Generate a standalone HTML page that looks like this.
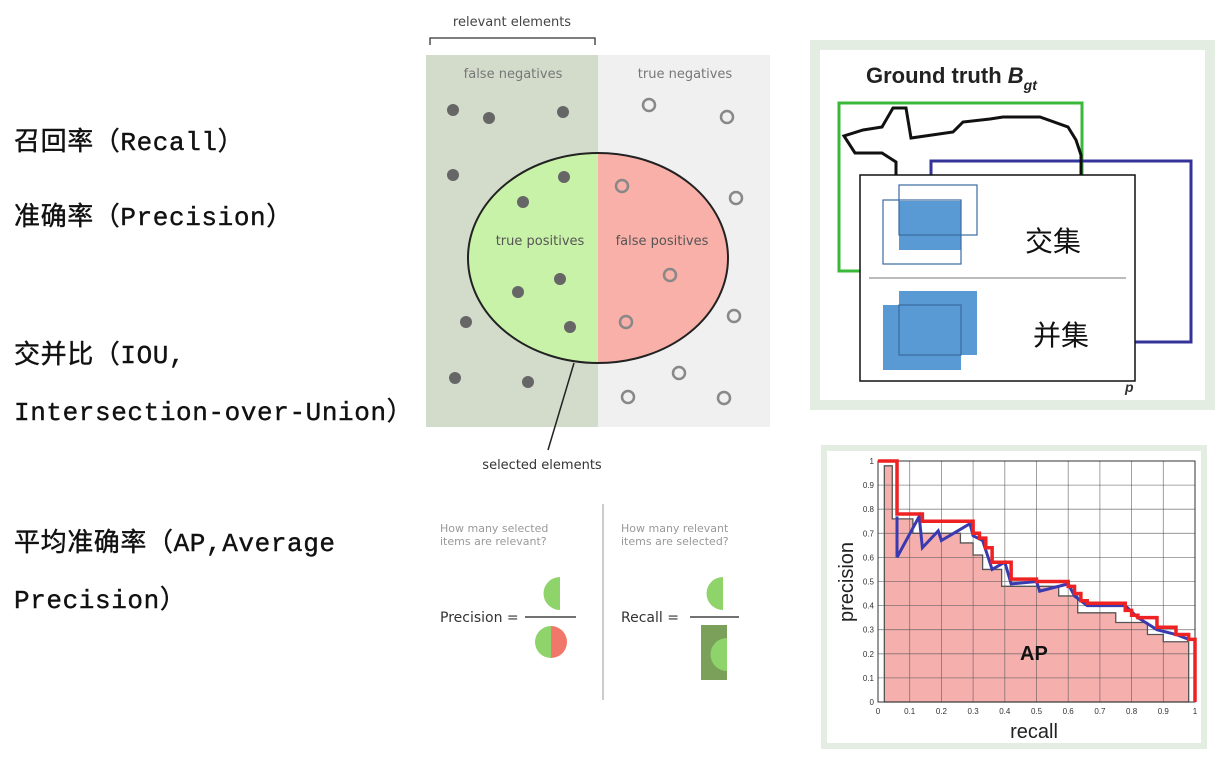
<!DOCTYPE html>
<html><head><meta charset="utf-8">
<style>
body{margin:0;width:1221px;height:763px;background:#fff;overflow:hidden;position:relative;font-family:"Liberation Sans","Noto Sans CJK SC",sans-serif}
.lt{position:absolute;left:14px;font-family:"Liberation Mono","Noto Sans CJK SC",monospace;font-size:26px;letter-spacing:0.6px;color:#111;white-space:nowrap;line-height:30px;-webkit-text-stroke:0.4px #111}
</style></head><body>
<div class="lt" style="top:128px">召回率（Recall）</div>
<div class="lt" style="top:203px">准确率（Precision）</div>
<div class="lt" style="top:341px">交并比（IOU,</div>
<div class="lt" style="top:398px">Intersection-over-Union）</div>
<div class="lt" style="top:529px">平均准确率（AP,Average</div>
<div class="lt" style="top:586px">Precision）</div>

<svg width="1221" height="763" style="position:absolute;left:0;top:0">
<g font-family="DejaVu Sans,sans-serif">
<text x="512" y="26" font-size="13" fill="#444" text-anchor="middle">relevant elements</text>
<path d="M430,45 V38 H595 V45" fill="none" stroke="#333" stroke-width="1.3"/>
<rect x="426" y="55" width="172" height="372" fill="#d3dccb"/>
<rect x="598" y="55" width="172" height="372" fill="#f0f0f0"/>
<text x="513" y="78" font-size="13" fill="#777" text-anchor="middle">false negatives</text>
<text x="685" y="78" font-size="13" fill="#777" text-anchor="middle">true negatives</text>
<path d="M598,153 A130,105 0 0 0 598,363 Z" fill="#c9f2a9"/>
<path d="M598,153 A130,105 0 0 1 598,363 Z" fill="#f9b0a8"/>
<ellipse cx="598" cy="258" rx="130" ry="105" fill="none" stroke="#222" stroke-width="2"/>
<text x="540" y="245" font-size="13" fill="#555" text-anchor="middle">true positives</text>
<text x="662" y="245" font-size="13" fill="#555" text-anchor="middle">false positives</text>
<g fill="#666">
<circle cx="453" cy="110" r="6"/><circle cx="489" cy="118" r="6"/><circle cx="563" cy="112" r="6"/>
<circle cx="453" cy="175" r="6"/><circle cx="564" cy="177" r="6"/><circle cx="523" cy="202" r="6"/>
<circle cx="560" cy="279" r="6"/><circle cx="518" cy="292" r="6"/><circle cx="466" cy="322" r="6"/>
<circle cx="570" cy="327" r="6"/><circle cx="455" cy="378" r="6"/><circle cx="528" cy="382" r="6"/></g>
<g fill="none" stroke="#888" stroke-width="2.5">
<circle cx="649" cy="105" r="6"/><circle cx="727" cy="117" r="6"/><circle cx="622" cy="186" r="6"/>
<circle cx="736" cy="198" r="6"/><circle cx="670" cy="275" r="6"/><circle cx="626" cy="322" r="6"/>
<circle cx="734" cy="316" r="6"/><circle cx="679" cy="373" r="6"/><circle cx="628" cy="397" r="6"/>
<circle cx="724" cy="398" r="6"/></g>
<line x1="574" y1="363" x2="548" y2="450" stroke="#222" stroke-width="1.5"/>
<text x="542" y="469" font-size="13" fill="#333" text-anchor="middle">selected elements</text>
</g>
<g font-family="DejaVu Sans,sans-serif">
<text x="440" y="532" font-size="11" fill="#999">How many selected</text>
<text x="440" y="545" font-size="11" fill="#999">items are relevant?</text>
<text x="621" y="532" font-size="11" fill="#999">How many relevant</text>
<text x="621" y="545" font-size="11" fill="#999">items are selected?</text>
<line x1="603" y1="504" x2="603" y2="700" stroke="#ccc" stroke-width="2"/>
<text x="440" y="622" font-size="14" fill="#333">Precision =</text>
<line x1="525" y1="617" x2="576" y2="617" stroke="#444" stroke-width="1.5"/>
<path d="M560,577 A16.5,16.5 0 0 0 560,610 Z" fill="#8fd46a"/>
<path d="M551,626 A16,16 0 0 0 551,658 Z" fill="#8fd46a"/>
<path d="M551,626 A16,16 0 0 1 551,658 Z" fill="#f0776a"/>
<text x="621" y="622" font-size="14" fill="#333">Recall =</text>
<line x1="690" y1="617" x2="739" y2="617" stroke="#444" stroke-width="1.5"/>
<path d="M723,577 A16.5,16.5 0 0 0 723,610 Z" fill="#8fd46a"/>
<rect x="701" y="625" width="26" height="55" fill="#7aa05a"/>
<path d="M727,638 A16.5,16.5 0 0 0 727,671 Z" fill="#8fd46a"/>
</g>
<g>
<rect x="815" y="45" width="395" height="360" fill="#fff" stroke="#e3ede1" stroke-width="10"/>
<text x="866" y="83" font-size="22" font-weight="bold" fill="#222">Ground truth <tspan font-style="italic">B</tspan><tspan font-style="italic" font-size="14" dy="7">gt</tspan></text>
<rect x="839" y="103" width="243" height="168" fill="none" stroke="#3ab83a" stroke-width="3"/>
<rect x="931" y="161" width="260" height="181" fill="none" stroke="#33339a" stroke-width="3"/>
<path d="M896,175 V162 L882,153 H855 L844,136 L863,130 L882,127 L893,108 H906 L911,138 L953,132 L963,122 L990,119 L1003,117 L1040,117 L1068,127 L1076,140 L1081,155 V175" fill="none" stroke="#111" stroke-width="3"/>
<text x="1125" y="392" font-size="14" font-weight="bold" font-style="italic" fill="#333">p</text>
<rect x="860" y="175" width="275" height="206" fill="#fff" stroke="#111" stroke-width="1.5"/>
<rect x="899" y="201" width="62" height="49" fill="#5a9ad4"/>
<rect x="899" y="185" width="78" height="50" fill="none" stroke="#3a6aa0" stroke-width="1.2"/>
<rect x="883" y="200" width="78" height="64" fill="none" stroke="#3a6aa0" stroke-width="1.2"/>
<text x="1025" y="251" font-size="28" fill="#111" font-family="Noto Sans CJK SC,sans-serif">交集</text>
<line x1="869" y1="278" x2="1126" y2="278" stroke="#777" stroke-width="1"/>
<rect x="899" y="291" width="78" height="64" fill="#5a9ad4"/>
<rect x="883" y="305" width="78" height="65" fill="#5a9ad4"/>
<rect x="899" y="305" width="62" height="50" fill="none" stroke="#3a6aa0" stroke-width="1.2"/>
<text x="1033" y="345" font-size="28" fill="#111" font-family="Noto Sans CJK SC,sans-serif">并集</text>
</g>
<g id="pr"></g>
</svg>
<script>
const xTicks=[0,0.1,0.2,0.3,0.4,0.5,0.6,0.7,0.8,0.9,1];
const yTicks=[0,0.1,0.2,0.3,0.4,0.5,0.6,0.7,0.8,0.9,1];
const grayRecall=[0.02,0.045,0.11,0.26,0.30,0.33,0.39,0.57,0.63,0.75,0.85,0.90,0.98];
const grayPrec=[0.98,0.76,0.70,0.66,0.61,0.55,0.48,0.44,0.37,0.33,0.28,0.25,0];
const redRecall=[0,0.06,0.14,0.30,0.32,0.34,0.36,0.42,0.50,0.60,0.62,0.64,0.66,0.78,0.80,0.82,0.88,0.94,0.98,1.0];
const redPrec=[1,0.78,0.75,0.70,0.68,0.64,0.58,0.51,0.50,0.48,0.45,0.42,0.41,0.38,0.36,0.35,0.31,0.28,0.26,0];
const blueRecall=[0.06,0.06,0.13,0.14,0.19,0.20,0.29,0.30,0.33,0.36,0.40,0.42,0.50,0.51,0.60,0.62,0.66,0.78,0.82,0.88,0.94,0.98];
const bluePrec=[0.77,0.60,0.77,0.64,0.71,0.67,0.74,0.69,0.67,0.55,0.58,0.49,0.50,0.46,0.49,0.44,0.40,0.40,0.35,0.30,0.28,0.26];
const NS='http://www.w3.org/2000/svg';
const X0=878,X1=1195,Y0=702,Y1=461;
const sx=v=>X0+v*(X1-X0), sy=v=>Y0-v*(Y0-Y1);
const g=document.getElementById('pr');
function mk(t,a,p){const e=document.createElementNS(NS,t);for(const k in a)e.setAttribute(k,a[k]);(p||g).appendChild(e);return e;}
const fr=mk('rect',{x:824,y:448,width:380,height:298,fill:'#fff',stroke:'#e3ede1','stroke-width':6});


let d=`M${sx(grayRecall[0])},${sy(0)}`;
grayPrec.forEach((p,i)=>{ if(i===0){d+=` L${sx(grayRecall[0])},${sy(p)}`;} d+=` L${sx(grayRecall[i+1]??grayRecall[i])},${sy(p)}`; if(i+1<grayPrec.length) d+=` L${sx(grayRecall[i+1])},${sy(grayPrec[i+1])}`;});
d+=` Z`;
const gf=mk('path',{d:d,fill:'#f5b0ae',stroke:'#555','stroke-width':1.3});


xTicks.forEach(t=>{const l=mk('line',{x1:sx(t),x2:sx(t),y1:Y1,y2:Y0,stroke:'#555','stroke-width':0.8,'stroke-opacity':0.7});


const tx=mk('text',{x:sx(t),y:Y0+12,'font-size':8,'text-anchor':'middle',fill:'#333'});tx.textContent=t;

});
yTicks.forEach(t=>{const l=mk('line',{x1:X0,x2:X1,y1:sy(t),y2:sy(t),stroke:'#555','stroke-width':0.8,'stroke-opacity':0.7});


const tx=mk('text',{x:X0-4,y:sy(t)+3,'font-size':8,'text-anchor':'end',fill:'#333'});tx.textContent=t;

});
const bx=mk('rect',{x:X0,y:Y1,width:X1-X0,height:Y0-Y1,fill:'none',stroke:'#333','stroke-width':1});


let bd='';blueRecall.forEach((r,i)=>{bd+=(i?' L':'M')+sx(r)+','+sy(bluePrec[i]);});
const bl=mk('path',{d:bd,fill:'none',stroke:'#3a3ab0','stroke-width':3});


let rd=`M${sx(redRecall[0])},${sy(redPrec[0])}`;
for(let i=1;i<redRecall.length;i++){rd+=` L${sx(redRecall[i])},${sy(redPrec[i-1])} L${sx(redRecall[i])},${sy(redPrec[i])}`;}
const rl=mk('path',{d:rd,fill:'none',stroke:'#ee2222','stroke-width':3.5});


const ap=mk('text',{x:1020,y:660,'font-size':20,'font-weight':'bold',fill:'#111'});ap.textContent='AP';


const xl=mk('text',{x:1034,y:738,'font-size':20,'text-anchor':'middle',fill:'#222'});xl.textContent='recall';


const yl=mk('text',{x:0,y:0,'font-size':20,'text-anchor':'middle',fill:'#222',transform:'translate(853,582) rotate(-90)'});yl.textContent='precision';


</script>
</body></html>
